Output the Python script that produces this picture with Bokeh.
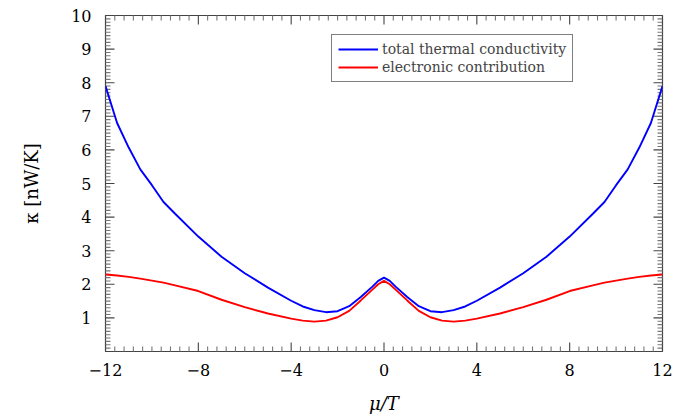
from bokeh.plotting import figure
from bokeh.models import (ColumnDataSource, FixedTicker, LinearAxis, Legend, LegendItem, Range1d)
from bokeh.embed import file_html
from bokeh.resources import INLINE

# data
mu_T = [-12, -11.5, -11, -10.5, -10, -9.5, -9, -8, -7, -6, -5, -4, -3.5, -3, -2.5, -2, -1.5, -1, -0.5, -0.25, 0,
        0.25, 0.5, 1, 1.5, 2, 2.5, 3, 3.5, 4, 5, 6, 7, 8, 9, 9.5, 10, 10.5, 11, 11.5, 12]
kappa_total = [7.9, 6.8, 6.07, 5.42, 4.95, 4.45, 4.1, 3.42, 2.82, 2.33, 1.9, 1.51, 1.34, 1.23, 1.17, 1.2, 1.35, 1.62, 1.93, 2.1, 2.2,
               2.1, 1.93, 1.62, 1.35, 1.2, 1.17, 1.23, 1.34, 1.51, 1.9, 2.33, 2.82, 3.42, 4.1, 4.45, 4.95, 5.42, 6.07, 6.8, 7.9]
kappa_el = [2.29, 2.26, 2.22, 2.17, 2.11, 2.05, 1.97, 1.8, 1.54, 1.32, 1.13, 0.98, 0.92, 0.89, 0.92, 1.02, 1.21, 1.52, 1.84, 2.0, 2.1,
            2.0, 1.84, 1.52, 1.21, 1.02, 0.92, 0.89, 0.92, 0.98, 1.13, 1.32, 1.54, 1.8, 1.97, 2.05, 2.11, 2.17, 2.22, 2.26, 2.29]
x_ticks = [-12, -8, -4, 0, 4, 8, 12]
x_tick_labels = ["\u221212", "\u22128", "\u22124", "0", "4", "8", "12"]
y_ticks = [1, 2, 3, 4, 5, 6, 7, 8, 9, 10]
series_names = ["total thermal conductivity", "electronic contribution"]

FONT = "DejaVu Serif"
AXC = "#444444"
MINC = "#777777"
X0, X1, Y0, Y1 = -12, 12, 0, 10
W, H = 676, 420
BL, BR, BT, BB = 105, 14, 15, 69

p = figure(width=W, height=H, output_backend="svg", toolbar_location=None,
           x_range=Range1d(X0, X1), y_range=Range1d(Y0, Y1),
           min_border_left=BL, min_border_right=BR, min_border_top=BT, min_border_bottom=BB,
           x_axis_location=None, y_axis_location=None)
p.grid.visible = False
p.outline_line_color = AXC
p.outline_line_width = 1.2
p.background_fill_color = "white"
p.border_fill_color = "white"

# inward tick marks on all four frame edges
x_minor = [round(X0 + 0.4 * i, 2) for i in range(61)]
x_minor = [v for v in x_minor if v not in x_ticks]
y_minor = [round(0.1 * i, 2) for i in range(1, 100)]
y_minor = [v for v in y_minor if v not in y_ticks]

def ticks(xs_pos, ys_pos, length, color):
    # left/right edges: dash markers centred on the edge (outer half clipped by the frame)
    p.scatter(x=[X0] * len(ys_pos) + [X1] * len(ys_pos), y=list(ys_pos) * 2, marker="dash",
              size=2 * length, line_color=color, line_width=1.1)
    # top/bottom edges: thin rects in screen units centred on the edge
    p.rect(x=list(xs_pos) * 2, y=[Y0] * len(xs_pos) + [Y1] * len(xs_pos),
           width=1.1, height=2 * length, width_units="screen", height_units="screen",
           fill_color=color, line_color=None)

ticks(x_minor, y_minor, 5, MINC)
ticks(x_ticks, y_ticks, 9, AXC)

src = ColumnDataSource(dict(x=mu_T, t=kappa_total, e=kappa_el))
r1 = p.line("x", "t", source=src, line_color="#0000ff", line_width=1.9)
r2 = p.line("x", "e", source=src, line_color="#ff0000", line_width=1.9)

def style(ax):
    ax.axis_line_color = None
    ax.major_tick_line_color = None
    ax.minor_tick_line_color = None
    ax.major_label_text_font = FONT
    ax.major_label_text_font_size = "16px"
    ax.major_label_text_color = "black"
    ax.axis_label_text_font = FONT
    ax.axis_label_text_font_size = "18px"
    ax.axis_label_text_color = "black"

xb = LinearAxis(ticker=FixedTicker(ticks=x_ticks, minor_ticks=[]),
                major_label_overrides={t: l for t, l in zip(x_ticks, x_tick_labels)})
style(xb)
xb.major_label_standoff = 6
xb.axis_label = "\u03bc/T"
xb.axis_label_text_font_style = "italic"
xb.axis_label_standoff = 14
p.add_layout(xb, "below")

yl = LinearAxis(ticker=FixedTicker(ticks=y_ticks, minor_ticks=[]))
style(yl)
yl.major_label_standoff = 8
yl.axis_label = "\u03ba [nW/K]"
yl.axis_label_text_font_style = "normal"
yl.axis_label_standoff = 26
p.add_layout(yl, "left")

legend = Legend(items=[LegendItem(label=series_names[0], renderers=[r1]),
                       LegendItem(label=series_names[1], renderers=[r2])],
                location=(226, 269))
legend.label_text_font = FONT
legend.label_text_font_size = "14px"
legend.label_height = 16
legend.glyph_height = 16
legend.glyph_width = 40
legend.label_standoff = 4
legend.spacing = 2
legend.padding = 6
legend.margin = 0
legend.border_line_color = "black"
legend.border_line_width = 1
legend.background_fill_alpha = 1
p.add_layout(legend, "center")

open("out.html", "w").write(file_html(p, INLINE))
